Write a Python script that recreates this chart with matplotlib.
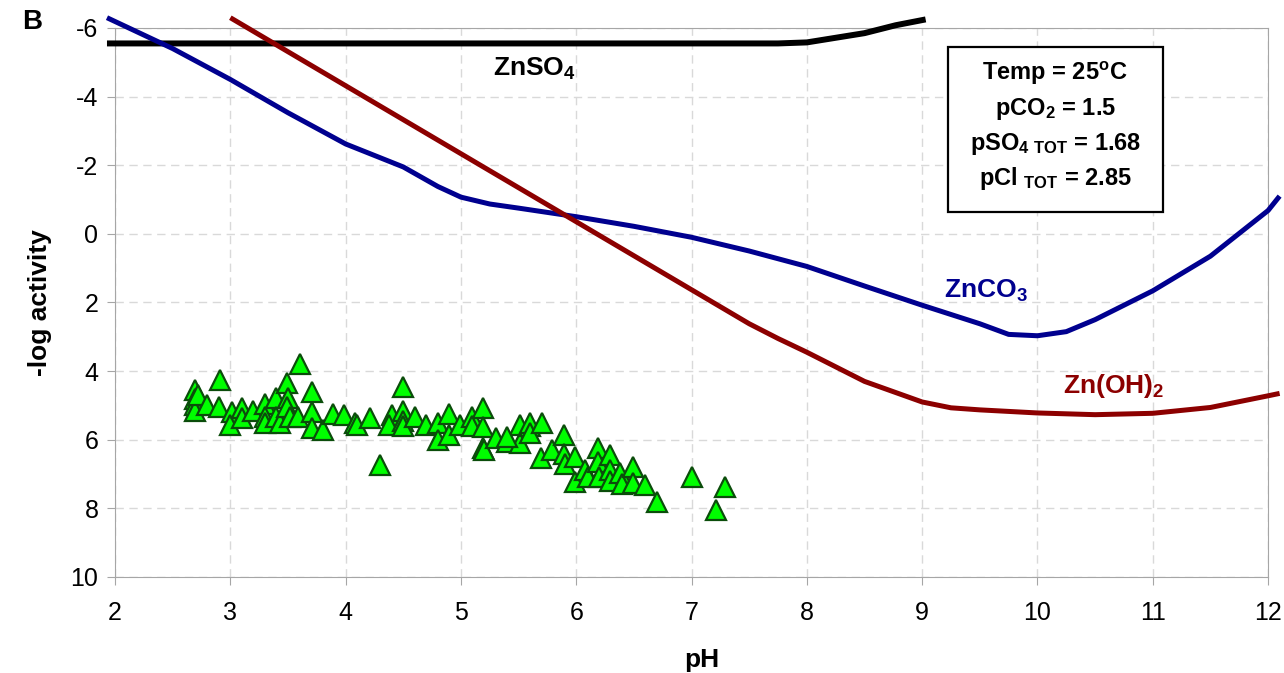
import matplotlib
matplotlib.use('Agg')
import matplotlib.pyplot as plt
from matplotlib.patches import Rectangle

plt.rcParams['font.family'] = 'Liberation Sans'
plt.rcParams['mathtext.fontset'] = 'custom'
plt.rcParams['mathtext.rm'] = 'Liberation Sans'
plt.rcParams['mathtext.bf'] = 'Liberation Sans:bold'
plt.rcParams['mathtext.default'] = 'bf'
plt.rcParams['axes.unicode_minus'] = False

# solubility lines (-log activity vs pH)
ph_znso4 = [1.93, 7.75, 8.0, 8.5, 8.77, 9.03]
znso4 = [-5.55, -5.55, -5.58, -5.85, -6.08, -6.25]

ph_znco3 = [1.93, 2.5, 3.0, 3.5, 4.0, 4.5, 4.8, 5.0, 5.25, 5.5, 6.0, 6.5, 7.0, 7.5,
            8.0, 8.5, 9.0, 9.5, 9.75, 10.0, 10.25, 10.5, 11.0, 11.5, 12.0, 12.1]
znco3 = [-6.3, -5.4, -4.5, -3.53, -2.62, -1.95, -1.38, -1.07, -0.87, -0.75, -0.5, -0.22, 0.1, 0.5,
         0.95, 1.52, 2.08, 2.62, 2.93, 2.97, 2.85, 2.5, 1.66, 0.65, -0.68, -1.1]

ph_znoh2 = [3.0, 7.5, 7.75, 8.0, 8.5, 9.0, 9.25, 9.5, 10.0, 10.5, 11.0, 11.5, 12.0, 12.1]
znoh2 = [-6.3, 2.62, 3.05, 3.45, 4.3, 4.9, 5.07, 5.13, 5.22, 5.27, 5.23, 5.06, 4.72, 4.65]

# measured samples
obs_ph = [2.69, 2.69, 2.69, 2.69, 2.72, 2.91, 2.8, 2.9, 3.01, 3.0, 3.1, 3.1, 3.2, 3.3, 3.3, 3.3,
          3.4, 3.4, 3.43, 3.49, 3.5, 3.49, 3.52, 3.6, 3.59, 3.71, 3.71, 3.71, 3.8, 3.89, 3.99,
          4.08, 4.1, 4.21, 4.3, 4.4, 4.38, 4.5, 4.5, 4.5, 4.5, 4.6, 4.7, 4.8, 4.8, 4.9, 4.9,
          4.99, 5.1, 5.1, 5.19, 5.19, 5.19, 5.2, 5.3, 5.4, 5.51, 5.51, 5.6, 5.4, 5.6, 5.6, 5.7,
          5.69, 5.79, 5.89, 5.89, 5.9, 5.99, 5.99, 6.08, 6.1, 6.19, 6.19, 6.2, 6.29, 6.29, 6.29,
          6.38, 6.4, 6.49, 6.49, 6.6, 6.7, 7.0, 7.29, 7.21]
obs_act = [4.56, 4.8, 5.0, 5.15, 4.7, 4.27, 5.0, 5.06, 5.2, 5.58, 5.09, 5.38, 5.15, 4.95, 5.35, 5.5,
           4.77, 5.35, 5.5, 4.36, 4.77, 5.06, 5.35, 3.78, 5.35, 4.62, 5.2, 5.67, 5.73, 5.24, 5.29,
           5.52, 5.58, 5.38, 6.74, 5.29, 5.58, 4.47, 5.15, 5.44, 5.6, 5.35, 5.58, 5.5, 6.02, 5.24, 5.87,
           5.58, 5.35, 5.6, 5.09, 5.64, 6.25, 6.3, 5.96, 6.07, 6.1, 5.58, 5.6, 5.93, 5.52, 5.8, 5.52,
           6.54, 6.3, 5.87, 6.42, 6.7, 6.51, 7.24, 6.89, 7.1, 6.25, 6.64, 7.1, 6.45, 6.89, 7.2,
           6.98, 7.3, 6.8, 7.25, 7.32, 7.82, 7.09, 7.38, 8.05]

box_lines = ['Temp = 25$^{o}$C', 'pCO$_2$ = 1.5', 'pSO$_{4\\ TOT}$ = 1.68', 'pCl $_{TOT}$ = 2.85']

blue = '#00008f'
red = '#8c0000'

fig = plt.figure(figsize=(12.84, 6.73), dpi=100)
ax = fig.add_axes([0.0896, 0.1427, 0.898, 0.8157])

ax.plot(ph_znso4, znso4, color='black', lw=4.3, clip_on=False, solid_capstyle='butt', zorder=3)
ax.plot(ph_znco3, znco3, color=blue, lw=3.6, clip_on=False, solid_capstyle='butt', zorder=3)
ax.plot(ph_znoh2, znoh2, color=red, lw=3.6, clip_on=False, solid_capstyle='butt', zorder=3)
ax.plot(obs_ph, obs_act, ls='none', marker='^', ms=15, mfc='#00ff00', mec='#0b4d0b', mew=1.6, zorder=4)

ax.set_xlim(2, 12)
ax.set_ylim(10, -6)
ax.set_xticks(range(2, 13))
ax.set_yticks(range(-6, 11, 2))
ax.grid(True, color='#d9d9d9', ls=(0, (6, 4)), lw=1)
ax.set_axisbelow(True)
for s in ax.spines.values():
    s.set_color('#a6a6a6')
ax.tick_params(colors='#a6a6a6', labelcolor='black', labelsize=18, length=6)
ax.tick_params(axis='x', pad=11)
ax.tick_params(axis='y', pad=6)

ax.set_xlabel('pH', fontsize=19, fontweight='bold', va='center')
ax.set_ylabel('-log activity', fontsize=19, fontweight='bold', va='center')
ax.xaxis.set_label_coords(0.509, -0.151)
ax.yaxis.set_label_coords(-0.065, 0.5)

ax.text(5.64, -4.8, 'ZnSO$_4$', fontsize=19, fontweight='bold', ha='center', va='center')
ax.text(9.55, 1.66, 'ZnCO$_3$', fontsize=19, fontweight='bold', color=blue, ha='center', va='center')
ax.text(10.66, 4.42, 'Zn(OH)$_2$', fontsize=19, fontweight='bold', color=red, ha='center', va='center')

ax.add_patch(Rectangle((0.7225, 0.665), 0.1865, 0.30, transform=ax.transAxes,
                       facecolor='white', edgecolor='black', lw=1.6, zorder=5))
for i, line in enumerate(box_lines):
    ax.text(0.8154, 0.917 - i * 0.064, line, transform=ax.transAxes, fontsize=17,
            fontweight='bold', ha='center', va='center', zorder=6)

fig.text(0.025, 0.967, 'B', fontsize=20, fontweight='bold', ha='center', va='center')

fig.savefig('out.png', dpi=100)
